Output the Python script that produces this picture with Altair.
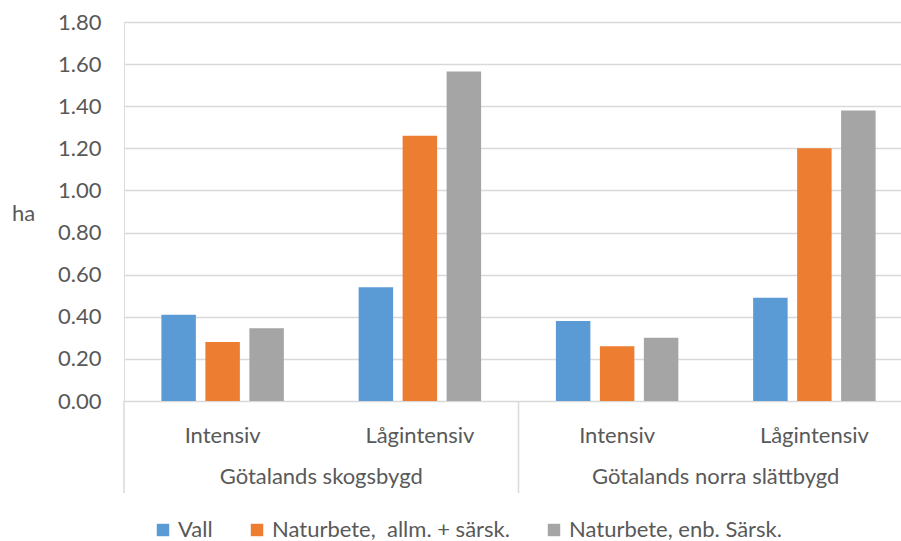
import altair as alt
import pandas as pd

# Regions, intensity levels and pasture types
regions = ["Götalands skogsbygd", "Götalands norra slättbygd"]
intensities = ["Intensiv", "Lågintensiv"]
series = ["Vall", "Naturbete,\u00a0 allm. + särsk.", "Naturbete, enb. Särsk."]
colors = ["#5B9BD5", "#ED7D31", "#A5A5A5"]

# Hectares per series, listed region by region, Intensiv then Lågintensiv
vall = [0.41, 0.54, 0.38, 0.49]
naturbete_allm = [0.28, 1.26, 0.26, 1.20]
naturbete_enb = [0.345, 1.565, 0.30, 1.38]

rows = []
keys = []
for ri, reg in enumerate(regions):
    for ii, inten in enumerate(intensities):
        k = ri * 2 + ii
        key = f"{reg}|{inten}"
        keys.append(key)
        for s, vals in zip(series, [vall, naturbete_allm, naturbete_enb]):
            rows.append({"Kategori": key, "Region": reg, "Intensitet": inten,
                         "Serie": s, "ha": vals[k]})
df = pd.DataFrame(rows)
cat_df = pd.DataFrame({"Kategori": keys,
                       "Intensitet": [k.split("|")[1] for k in keys]})
reg_df = pd.DataFrame({"Region": regions})

FONT = "Lato"
FS = 22
TXT = "#595959"
GRID = "#D9D9D9"
XRANGE = [0, 789]

x_cat = alt.X("Kategori:N", sort=keys, axis=None,
              scale=alt.Scale(paddingInner=0, paddingOuter=0, range=XRANGE))

bars = alt.Chart(df).mark_bar().encode(
    x=x_cat,
    xOffset=alt.XOffset("Serie:N", sort=series,
                        scale=alt.Scale(paddingInner=0.216, paddingOuter=0.85)),
    y=alt.Y("ha:Q",
            scale=alt.Scale(domain=[0, 1.8], nice=False),
            axis=alt.Axis(title="ha", values=[i / 5 for i in range(10)],
                          format=".2f", grid=True, gridColor=GRID, gridWidth=1.5,
                          domain=False, ticks=False, labelPadding=23,
                          labelFontSize=FS, labelColor=TXT, labelFont=FONT,
                          titleAngle=0, titleX=-101, titleY=191,
                          titleAlign="center", titleBaseline="middle",
                          titleFontSize=FS, titleColor=TXT, titleFont=FONT,
                          titleFontWeight="normal")),
    color=alt.Color("Serie:N", sort=series,
                    scale=alt.Scale(domain=series, range=colors),
                    legend=alt.Legend(title=None, orient="none", direction="horizontal",
                                      legendX=28, legendY=497, symbolType="square",
                                      symbolSize=155, symbolStrokeWidth=0,
                                      labelFontSize=FS, labelColor=TXT, labelFont=FONT,
                                      labelOffset=4, columnPadding=33, padding=0,
                                      labelLimit=400)),
)

intensity_labels = alt.Chart(cat_df).mark_text(
    fontSize=FS, font=FONT, color=TXT, baseline="middle"
).encode(x=x_cat, y=alt.value(414), text="Intensitet:N")

x_reg = alt.X("Region:N", sort=regions, axis=None,
              scale=alt.Scale(paddingInner=0, paddingOuter=0, range=XRANGE))

region_labels = alt.Chart(reg_df).mark_text(
    fontSize=FS, font=FONT, color=TXT, baseline="middle"
).encode(x=x_reg, y=alt.value(455), text="Region:N")

separators = alt.Chart(reg_df).mark_rule(color=GRID, strokeWidth=1.5).encode(
    x=alt.X("Region:N", sort=regions, axis=None, bandPosition=0,
            scale=alt.Scale(paddingInner=0, paddingOuter=0, range=XRANGE)),
    y=alt.value(379), y2=alt.value(471),
)

chart = alt.layer(bars, intensity_labels, separators, region_labels).resolve_scale(
    x="independent"
).properties(
    width=777, height=379,
    autosize=alt.AutoSizeParams(type="none"),
    padding={"left": 124, "top": 22, "right": 0, "bottom": 140},
).configure_view(stroke=None).configure(background="white")

chart.save("out.html", embed_options={"renderer": "svg", "actions": False})
